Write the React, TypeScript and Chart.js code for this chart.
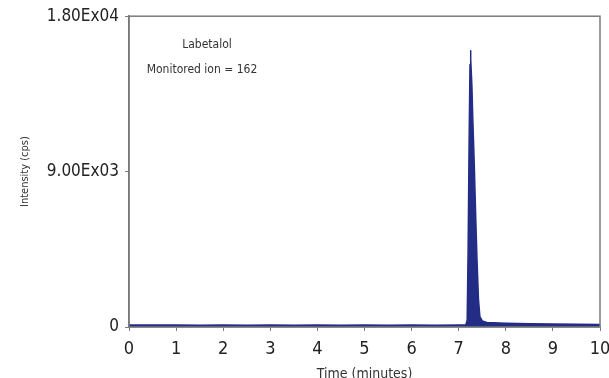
import React, { useEffect, useRef } from "react";
import { Chart, registerables } from "chart.js";

Chart.register(...registerables);

const timeMin: number[] = [0, 0.5, 1, 1.5, 2, 2.5, 3, 3.5, 4, 4.5, 5, 5.5, 6, 6.5, 7, 7.15, 7.18, 7.2, 7.22, 7.24, 7.25, 7.26, 7.28, 7.3, 7.33, 7.36, 7.39, 7.42, 7.45, 7.5, 7.6, 8, 8.5, 9, 9.5, 10];
const intensity: number[] = [120, 110, 120, 100, 110, 100, 110, 100, 110, 100, 110, 100, 110, 100, 110, 120, 400, 4500, 10500, 15200, 16000, 15500, 14000, 12000, 9500, 6500, 3800, 1600, 600, 350, 260, 220, 190, 170, 160, 150];
const yTickValues: number[] = [0, 9000, 18000];
const yTickLabels: string[] = ["0", "9.00Ex03", "1.80Ex04"];
const xTickLabels: string[] = ["0", "1", "2", "3", "4", "5", "6", "7", "8", "9", "10"];
const annotationLines: string[] = ["Labetalol", "Monitored ion = 162"];

const FONT = '"DejaVu Sans Condensed", "Liberation Sans Narrow", "Liberation Sans", Arial, sans-serif';

export default function App() {
  const ref = useRef<HTMLCanvasElement | null>(null);
  useEffect(() => {
    if (!ref.current) return;
    const boxPlugin = {
      id: "box",
      afterDraw(chart: any) {
        const { ctx, chartArea } = chart;
        ctx.save();
        ctx.strokeStyle = "#7a7a7a";
        ctx.lineWidth = 1.5;
        ctx.strokeRect(chartArea.left, chartArea.top, chartArea.right - chartArea.left, chartArea.bottom - chartArea.top);
        ctx.fillStyle = "#333";
        ctx.font = `12px ${FONT}`;
        ctx.textAlign = "center";
        ctx.textBaseline = "middle";
        ctx.fillText(annotationLines[0], 207, 45);
        ctx.fillText(annotationLines[1], 202, 70);
        ctx.restore();
      },
    };
    const chart = new Chart(ref.current, {
      type: "line",
      data: {
        datasets: [
          {
            data: timeMin.map((t, i) => ({ x: t, y: intensity[i] })),
            borderColor: "#232d86",
            backgroundColor: "#232d86",
            borderWidth: 1.5,
            borderJoinStyle: "round",
            pointRadius: 0,
            fill: "origin",
            tension: 0,
          },
        ],
      },
      options: {
        animation: false,
        responsive: false,
        maintainAspectRatio: false,
        layout: { padding: { top: 16, right: 0, left: 19, bottom: 0 } },
        plugins: { legend: { display: false }, tooltip: { enabled: false } },
        scales: {
          x: {
            type: "linear",
            min: 0,
            max: 10,
            grid: { display: true, drawOnChartArea: false, drawTicks: true, tickLength: 4, color: "#7a7a7a" },
            border: { display: true, color: "#7a7a7a", width: 1.5 },
            ticks: {
              stepSize: 1,
              color: "#222",
              font: { family: FONT, size: 18 },
              padding: 8,
              maxRotation: 0,
              callback: (v: any) => xTickLabels[Math.round(Number(v))] ?? "",
            },
            title: { display: true, text: "Time (minutes)", color: "#333", font: { family: FONT, size: 14 }, padding: { top: 0, bottom: -5 } },
            afterFit: (s: any) => { s.height = 51; s.paddingRight = 9; s.paddingLeft = 0; },
          },
          y: {
            type: "linear",
            min: 0,
            max: 18000,
            afterBuildTicks: (s: any) => { s.ticks = yTickValues.map((v) => ({ value: v })); },
            grid: { display: true, drawOnChartArea: false, drawTicks: true, tickLength: 4, color: "#7a7a7a" },
            border: { display: true, color: "#7a7a7a", width: 1.5 },
            ticks: {
              color: "#222",
              font: { family: FONT, size: 17 },
              padding: 6,
              callback: (v: any) => yTickLabels[yTickValues.indexOf(Number(v))] ?? "",
            },
            title: { display: true, text: "Intensity (cps)", color: "#333", font: { family: FONT, size: 11 }, padding: { top: 0, bottom: 0 } },
            afterFit: (s: any) => { s.width = 110; },
          },
        },
      },
      plugins: [boxPlugin],
    });
    return () => chart.destroy();
  }, []);
  return (
    <div style={{ position: "absolute", left: 0, top: 0, width: 609, height: 378, background: "#fff" }}>
      <canvas ref={ref} width={609} height={378} style={{ width: 609, height: 378 }} />
    </div>
  );
}
